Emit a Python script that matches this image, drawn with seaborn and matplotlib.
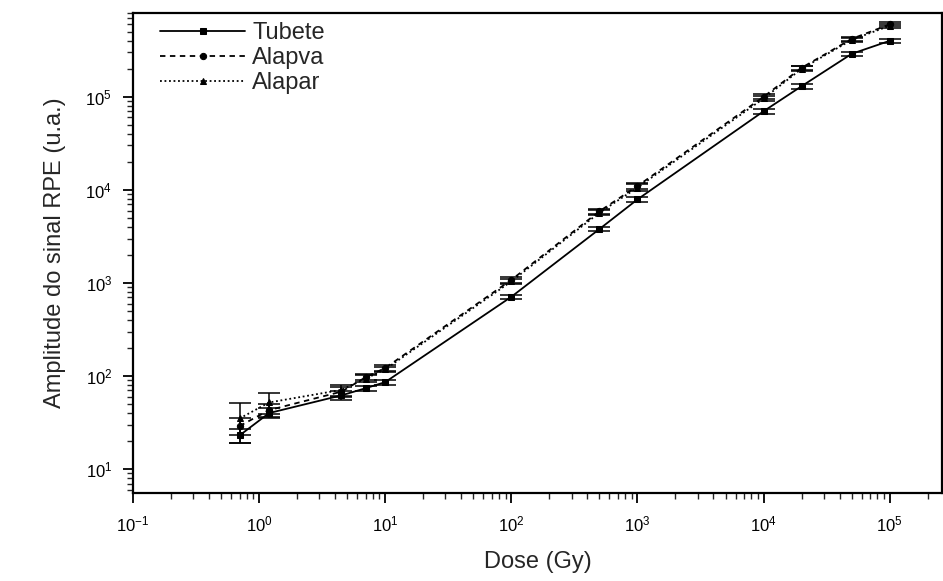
import numpy as np
import pandas as pd
import matplotlib
matplotlib.use("Agg")
import matplotlib.pyplot as plt
import matplotlib.ticker as mticker
import seaborn as sns

# values (dose in Gy, signal in a.u.)
dose = [0.7, 1.2, 4.5, 7, 10, 100, 500, 1000, 10000, 20000, 50000, 100000]

tubete = [23, 40, 62, 74, 86, 710, 3800, 7900, 70000, 130000, 290000, 400000]
tubete_err = [4, 5, 7, 5, 5, 40, 200, 400, 4000, 8000, 15000, 20000]

alapva = [29, 43, 68, 97, 122, 1080, 5900, 11000, 100000, 205000, 420000, 600000]
alapva_err = [6, 7, 8, 7, 8, 70, 350, 900, 6000, 12000, 20000, 30000]

alapar = [35, 52, 71, 94, 118, 1040, 5700, 10600, 96000, 200000, 410000, 580000]
alapar_err = [16, 13, 10, 8, 8, 70, 350, 900, 6000, 12000, 20000, 30000]

series_names = ["Tubete", "Alapva", "Alapar"]

sns.set_theme(style="ticks")
plt.rcParams['font.family'] = ['Liberation Sans', 'DejaVu Sans']
plt.rcParams['mathtext.fontset'] = 'custom'
plt.rcParams['mathtext.rm'] = 'Liberation Sans'
plt.rcParams['mathtext.it'] = 'Liberation Sans'
plt.rcParams['mathtext.default'] = 'regular'

df = pd.concat([
    pd.DataFrame({"dose": dose, "signal": tubete, "err": tubete_err, "serie": "Tubete"}),
    pd.DataFrame({"dose": dose, "signal": alapva, "err": alapva_err, "serie": "Alapva"}),
    pd.DataFrame({"dose": dose, "signal": alapar, "err": alapar_err, "serie": "Alapar"}),
], ignore_index=True)

styles = {
    "Tubete": dict(ls="-", marker="s"),
    "Alapva": dict(ls=(0, (3, 2.5)), marker="o"),
    "Alapar": dict(ls=(0, (1, 1.5)), marker="^"),
}

fig = plt.figure(figsize=(9.43, 5.81), dpi=100)
ax = fig.add_axes([0.141, 0.151, 0.858, 0.827])
ax.set(xscale="log", yscale="log")

for name in series_names:
    sub = df[df["serie"] == name]
    st = styles[name]
    sns.lineplot(data=sub, x="dose", y="signal", ax=ax, color="black",
                 linewidth=1.3, linestyle=st["ls"], marker=st["marker"],
                 markersize=4.5, markeredgecolor="black", label=name)
    ax.errorbar(sub["dose"], sub["signal"], yerr=sub["err"], fmt="none",
                ecolor="black", elinewidth=1.1, capsize=8, capthick=1.1)

ax.set_xlim(0.1, 2.6e5)
ax.set_ylim(5.5, 8e5)
ax.set_xticks([10.0 ** k for k in range(-1, 6)])
ax.set_yticks([10.0 ** k for k in range(1, 6)])
ax.xaxis.set_minor_formatter(mticker.NullFormatter())
ax.yaxis.set_minor_formatter(mticker.NullFormatter())

ax.set_xlabel("Dose (Gy)", fontsize=17, labelpad=12)
ax.set_ylabel("Amplitude do sinal RPE (u.a.)", fontsize=17, labelpad=14)

ax.tick_params(axis="both", which="major", direction="out", length=7, width=1.3,
               labelsize=12, colors="black", pad=8)
ax.tick_params(axis="both", which="minor", direction="out", length=4, width=1.0)
for s in ax.spines.values():
    s.set_linewidth(1.6)
    s.set_color("black")

leg = ax.legend(loc="upper left", bbox_to_anchor=(0.022, 1.0), frameon=False,
                fontsize=17, handlelength=3.6, handletextpad=0.3,
                labelspacing=0.12, borderpad=0.2, borderaxespad=0.2)

plt.savefig("out.png", dpi=100)
plt.close()
